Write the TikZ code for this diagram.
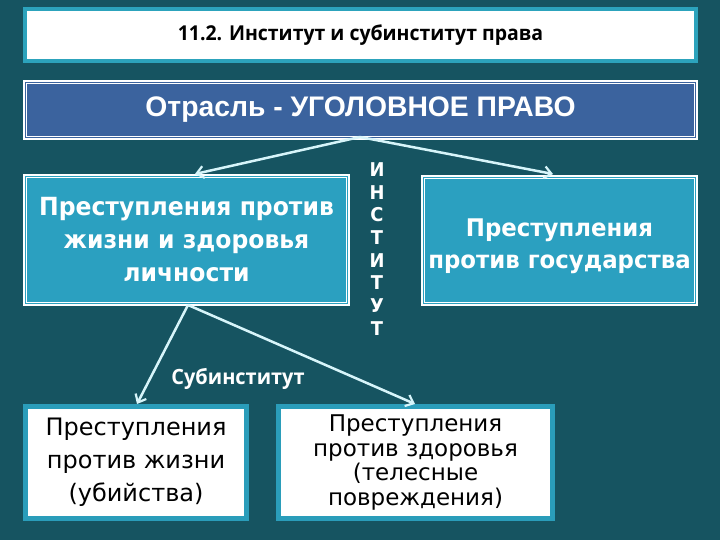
\documentclass[tikz,border=0pt]{standalone}
\usepackage{fontspec}
\setmainfont{DejaVu Sans}
\newfontfamily\titlefont[FakeStretch=0.95]{Open Sans}
\newfontfamily\otrfont{Liberation Sans}
\newfontfamily\midfont[FakeStretch=0.94]{DejaVu Sans}
\newfontfamily\lowfont{DejaVu Sans}
\usetikzlibrary{arrows.meta}
\definecolor{bgcol}{RGB}{22,84,97}
\definecolor{titleborder}{RGB}{44,163,188}
\definecolor{otrfill}{RGB}{59,99,158}
\definecolor{midfill}{RGB}{43,160,192}
\definecolor{lowborder}{RGB}{42,157,186}
\definecolor{arrcol}{RGB}{215,245,250}
\tikzset{
  titlebox/.style={draw=titleborder, line width=4pt, fill=white, inner sep=0pt},
  otrbox/.style={draw=white, line width=1.6pt, double=otrfill, double distance=1.2pt, fill=otrfill, inner sep=0pt},
  midbox/.style={draw=white, line width=1.6pt, double=midfill, double distance=1.2pt, fill=midfill, inner sep=0pt, text=white, align=center},
  lowbox/.style={draw=lowborder, line width=5pt, fill=white, inner sep=0pt, text=black, align=center},
  conn/.style={draw=arrcol, line width=2.5pt, -{Straight Barb[length=7pt,width=12pt,line width=2.2pt]}},
  lbl/.style={text=white, inner sep=0pt}
}
\begin{document}
\begin{tikzpicture}[x=1pt,y=-1pt]
\fill[bgcol] (0,0) rectangle (720,540);
\useasboundingbox (0,0) rectangle (720,540);

\node[titlebox, minimum width=671pt, minimum height=52pt,
  font=\titlefont\bfseries\fontsize{20.5}{24}\selectfont] (title) at (360.5,35)
  {11.2. Институт и субинститут права};

\node[otrbox, minimum width=670.6pt, minimum height=55.6pt, text=white,
  font=\otrfont\bfseries\fontsize{28.3}{31}\selectfont] (otr) at (360.5,110)
  {\raisebox{-3pt}{Отрасль - УГОЛОВНОЕ ПРАВО}};

\node[midbox, minimum width=322.6pt, minimum height=127.6pt,
  font=\midfont\bfseries\fontsize{25}{33}\selectfont] (lm) at (186.5,240)
  {Преступления против\\жизни и здоровья\\личности};

\node[midbox, minimum width=272.6pt, minimum height=126.6pt,
  font=\midfont\bfseries\fontsize{24.3}{32}\selectfont] (rm) at (559.5,240.5)
  {\rule{0pt}{30pt}Преступления\\против государства};

\node[lbl, align=center, font=\midfont\bfseries\fontsize{19}{22.7}\selectfont] (inst) at (377,249)
  {И\\Н\\С\\Т\\И\\Т\\У\\Т};

\node[lowbox, minimum width=221pt, minimum height=112pt,
  font=\lowfont\fontsize{24}{33}\selectfont] (bl) at (136,462.5)
  {Преступления\\против жизни\\(убийства)};

\node[lowbox, minimum width=274pt, minimum height=112pt,
  font=\lowfont\fontsize{23}{24.5}\selectfont] (br) at (415.5,462.5)
  {Преступления\\против здоровья\\(телесные\\повреждения)};

\node[lbl, font=\titlefont\bfseries\fontsize{21}{24}\selectfont] (sub) at (238,379)
  {Субинститут};

\coordinate (otrb) at (360,137);
\coordinate (lmt) at (195,174);
\coordinate (rmt) at (553,174);
\coordinate (lmb) at (188,305);
\coordinate (blt) at (137,404);
\coordinate (brt) at (415,404);

\draw[conn] (otrb) -- (lmt);
\draw[conn] (otrb) -- (rmt);
\draw[conn] (lmb) -- (blt);
\draw[conn] (lmb) -- (brt);
\end{tikzpicture}
\end{document}
